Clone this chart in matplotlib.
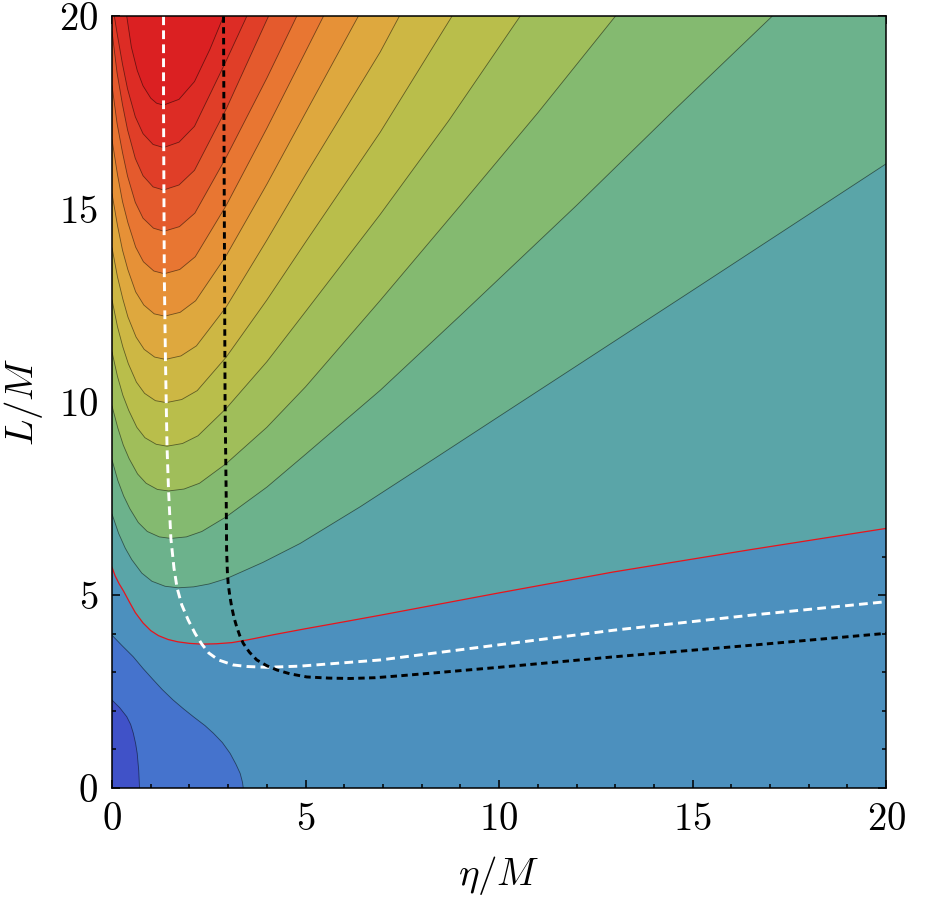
import numpy as np
import matplotlib
matplotlib.use("Agg")
import matplotlib.pyplot as plt
from matplotlib.ticker import MultipleLocator

plt.rcParams['font.family'] = 'serif'
plt.rcParams['font.serif'] = ['cmr10']
plt.rcParams['mathtext.fontset'] = 'cm'
plt.rcParams['axes.formatter.use_mathtext'] = True
plt.rcParams['axes.unicode_minus'] = False

# contour lines, (eta/M, L/M) pairs, lowest level first
# corner curves around the origin
c0_eta = [0, 0.2, 0.38, 0.48, 0.55, 0.61, 0.65, 0.69, 0.71]
c0_L = [2.28, 2.08, 1.85, 1.65, 1.42, 1.15, 0.90, 0.45, 0.0]
c1_eta = [0, 0.25, 0.55, 0.8, 1.07, 1.3, 1.58, 1.85, 2.10, 2.4, 2.62, 2.85, 3.05, 3.2, 3.31, 3.37, 3.39]
c1_L = [3.96, 3.7, 3.40, 3.1, 2.80, 2.55, 2.28, 2.05, 1.85, 1.62, 1.42, 1.18, 0.90, 0.62, 0.38, 0.15, 0.0]

# red contour
red_eta = [0, 0.08, 0.18, 0.3, 0.45, 0.6, 0.8, 1.0, 1.2, 1.45, 1.7, 2.0, 2.32, 2.7, 3.1, 3.5,
           4.2, 5.0, 6.0, 6.93, 9.9, 12.95, 16.5, 20]
red_L = [5.72, 5.5, 5.3, 5.1, 4.82, 4.55, 4.28, 4.08, 3.95, 3.85, 3.79, 3.75, 3.73, 3.74, 3.77, 3.84,
         3.98, 4.13, 4.31, 4.48, 5.04, 5.60, 6.18, 6.73]

# U shaped contours above the red one, lowest first
u_curves = [
    ([0, 0.17, 0.34, 0.51, 0.77, 1.03, 1.37, 1.71, 2.11, 2.51, 2.96, 3.9, 4.86, 6.41, 8.3, 10.24, 15, 20],
     [7.1, 6.60, 6.22, 5.92, 5.57, 5.36, 5.23, 5.19, 5.215, 5.29, 5.43, 5.85, 6.34, 7.29, 8.52, 9.79, 12.9, 16.18]),
    ([0, 0.15, 0.30, 0.46, 0.68, 0.91, 1.22, 1.52, 1.92, 2.32, 2.95, 4.0, 5.0, 6.93, 9, 12, 14.5, 17.05],
     [8.5, 7.97, 7.57, 7.24, 6.88, 6.65, 6.51, 6.47, 6.51, 6.65, 7.03, 7.8, 8.65, 10.31, 12.25, 15.1, 17.55, 20]),
    ([0, 0.15, 0.29, 0.44, 0.66, 0.88, 1.17, 1.46, 1.86, 2.26, 2.95, 4.0, 5.0, 6.93, 9, 11, 13],
     [9.9, 9.33, 8.89, 8.54, 8.14, 7.90, 7.74, 7.70, 7.75, 7.90, 8.41, 9.35, 10.4, 12.64, 15.1, 17.5, 20]),
    ([0, 0.14, 0.28, 0.43, 0.64, 0.85, 1.14, 1.42, 1.82, 2.22, 2.95, 4, 5, 6.93, 8.7, 10.54],
     [11.3, 10.67, 10.18, 9.79, 9.35, 9.08, 8.91, 8.86, 8.93, 9.13, 9.84, 11.05, 12.35, 14.87, 17.3, 20]),
    ([0, 0.14, 0.28, 0.42, 0.63, 0.84, 1.12, 1.40, 1.8, 2.2, 2.95, 4, 5, 6.93, 8.78],
     [12.65, 11.96, 11.43, 11.0, 10.52, 10.23, 10.04, 9.99, 10.07, 10.30, 11.17, 12.65, 14.15, 17.0, 20]),
    ([0, 0.14, 0.28, 0.41, 0.62, 0.83, 1.10, 1.38, 1.78, 2.18, 2.95, 4, 5, 6.93, 7.42],
     [14.0, 13.25, 12.67, 12.21, 11.69, 11.37, 11.17, 11.11, 11.20, 11.46, 12.47, 14.2, 15.9, 19.08, 20]),
    ([0, 0.14, 0.27, 0.41, 0.61, 0.82, 1.09, 1.36, 1.76, 2.16, 2.95, 4, 5, 6.36],
     [15.4, 14.58, 13.94, 13.43, 12.86, 12.52, 12.29, 12.23, 12.33, 12.63, 13.8, 15.65, 17.5, 20]),
    ([0, 0.14, 0.27, 0.41, 0.61, 0.81, 1.08, 1.35, 1.75, 2.15, 2.95, 4, 5.46],
     [16.8, 15.90, 15.20, 14.65, 14.02, 13.64, 13.40, 13.33, 13.44, 13.77, 15.1, 17.1, 20]),
    ([0, 0.13, 0.27, 0.40, 0.60, 0.80, 1.07, 1.34, 1.74, 2.14, 2.95, 4, 4.77],
     [18.2, 17.22, 16.47, 15.86, 15.18, 14.77, 14.51, 14.43, 14.55, 14.90, 16.35, 18.4, 20]),
    ([0, 0.13, 0.27, 0.40, 0.60, 0.80, 1.06, 1.33, 1.73, 2.13, 2.95, 4.04],
     [19.6, 18.53, 17.71, 17.06, 16.32, 15.87, 15.58, 15.5, 15.63, 16.01, 17.6, 20]),
    ([0.06, 0.13, 0.27, 0.40, 0.60, 0.80, 1.06, 1.33, 1.73, 2.13, 2.95, 3.48],
     [20, 19.56, 18.76, 18.12, 17.4, 16.96, 16.68, 16.6, 16.74, 17.15, 18.85, 20]),
    ([0.38, 0.5, 0.65, 0.8, 1.0, 1.15, 1.33, 1.73, 2.13, 2.53, 2.88],
     [20, 19.2, 18.6, 18.2, 17.88, 17.75, 17.7, 17.85, 18.31, 19.15, 20]),
]

# dashed curves
white_eta = [1.33, 1.33, 1.34, 1.35, 1.38, 1.42, 1.46, 1.52, 1.6, 1.68, 1.8, 1.97, 2.15, 2.32, 2.5,
             2.75, 3.13, 3.5, 4.0, 4.86, 6.93, 9.9, 12.95, 16.5, 20]
white_L = [20, 17.7, 15.5, 13.3, 11.1, 8.86, 7.7, 6.47, 5.7, 5.19, 4.75, 4.35, 4.0, 3.73, 3.5,
           3.32, 3.19, 3.15, 3.13, 3.16, 3.32, 3.7, 4.09, 4.48, 4.83]
black_eta = [2.88, 2.9, 2.92, 2.95, 2.96, 2.98, 3.0, 3.04, 3.09, 3.15, 3.22, 3.3, 3.39, 3.55, 3.74,
             4.0, 4.26, 4.6, 5.03, 5.6, 6.15, 6.8, 7.44, 8.5, 10.0, 12.95, 16.5, 20]
black_L = [20, 15, 10, 7.46, 6.17, 5.6, 5.30, 5.0, 4.70, 4.42, 4.18, 3.95, 3.75, 3.52, 3.32,
           3.17, 3.06, 2.96, 2.88, 2.85, 2.84, 2.86, 2.91, 3.0, 3.13, 3.40, 3.70, 4.01]

region_colors = ['#4052c8', '#4573cd', '#4c90be', '#5aa5a8', '#6cb28c', '#84ba70',
                 '#a0be5a', '#b9be4b', '#cdb744', '#dea83e', '#e69137', '#e87632',
                 '#e45a2d', '#e03e28', '#dd2c25', '#db2022']

fig = plt.figure(figsize=(9.26, 9.10), dpi=100)
ax = fig.add_axes([0.121, 0.134, 0.836, 0.848])
ax.set_facecolor(region_colors[2])

line_kw = dict(color='k', alpha=0.5, lw=0.6)

# corner regions
ax.fill(c1_eta + [0], c1_L + [0], color=region_colors[1], lw=0, zorder=1)
ax.fill(c0_eta + [0], c0_L + [0], color=region_colors[0], lw=0, zorder=1.1)
ax.plot(c1_eta, c1_L, zorder=5, **line_kw)
ax.plot(c0_eta, c0_L, zorder=5, **line_kw)


def region(xs, ys):
    xs, ys = list(xs), list(ys)
    if xs[-1] == 20:
        xs.append(20); ys.append(20)
    if xs[0] == 0 and ys[0] < 20:
        xs.append(0); ys.append(20)
    return xs, ys


px, py = region(red_eta, red_L)
ax.fill(px, py, color=region_colors[3], lw=0, zorder=2)
for i, (ce, cl) in enumerate(u_curves):
    px, py = region(ce, cl)
    ax.fill(px, py, color=region_colors[4 + i], lw=0, zorder=2 + 0.01 * (i + 1))
    ax.plot(ce, cl, zorder=5, **line_kw)
ax.plot(red_eta, red_L, color='#e8141c', lw=0.9, zorder=5)

ax.plot(white_eta, white_L, color='white', lw=2.1, ls=(0, (3.0, 1.8)), zorder=6)
ax.plot(black_eta, black_L, color='black', lw=2.1, ls=(0, (2.2, 1.5)), zorder=6)

ax.set_xlim(0, 20)
ax.set_ylim(0, 20)
ax.xaxis.set_major_locator(MultipleLocator(5))
ax.yaxis.set_major_locator(MultipleLocator(5))
ax.xaxis.set_minor_locator(MultipleLocator(1))
ax.yaxis.set_minor_locator(MultipleLocator(1))
ax.tick_params(which='both', direction='in', top=True, right=True, labelsize=28, width=1.1)
ax.tick_params(which='major', length=5.5, pad=10)
ax.tick_params(which='minor', length=3.2)
for s in ax.spines.values():
    s.set_linewidth(1.1)
    s.set_zorder(10)
ax.set_xlabel(r'$\eta/M$', fontsize=28, labelpad=12)
ax.set_ylabel(r'$L/M$', fontsize=28, labelpad=10)

fig.savefig('out.png', dpi=100)
